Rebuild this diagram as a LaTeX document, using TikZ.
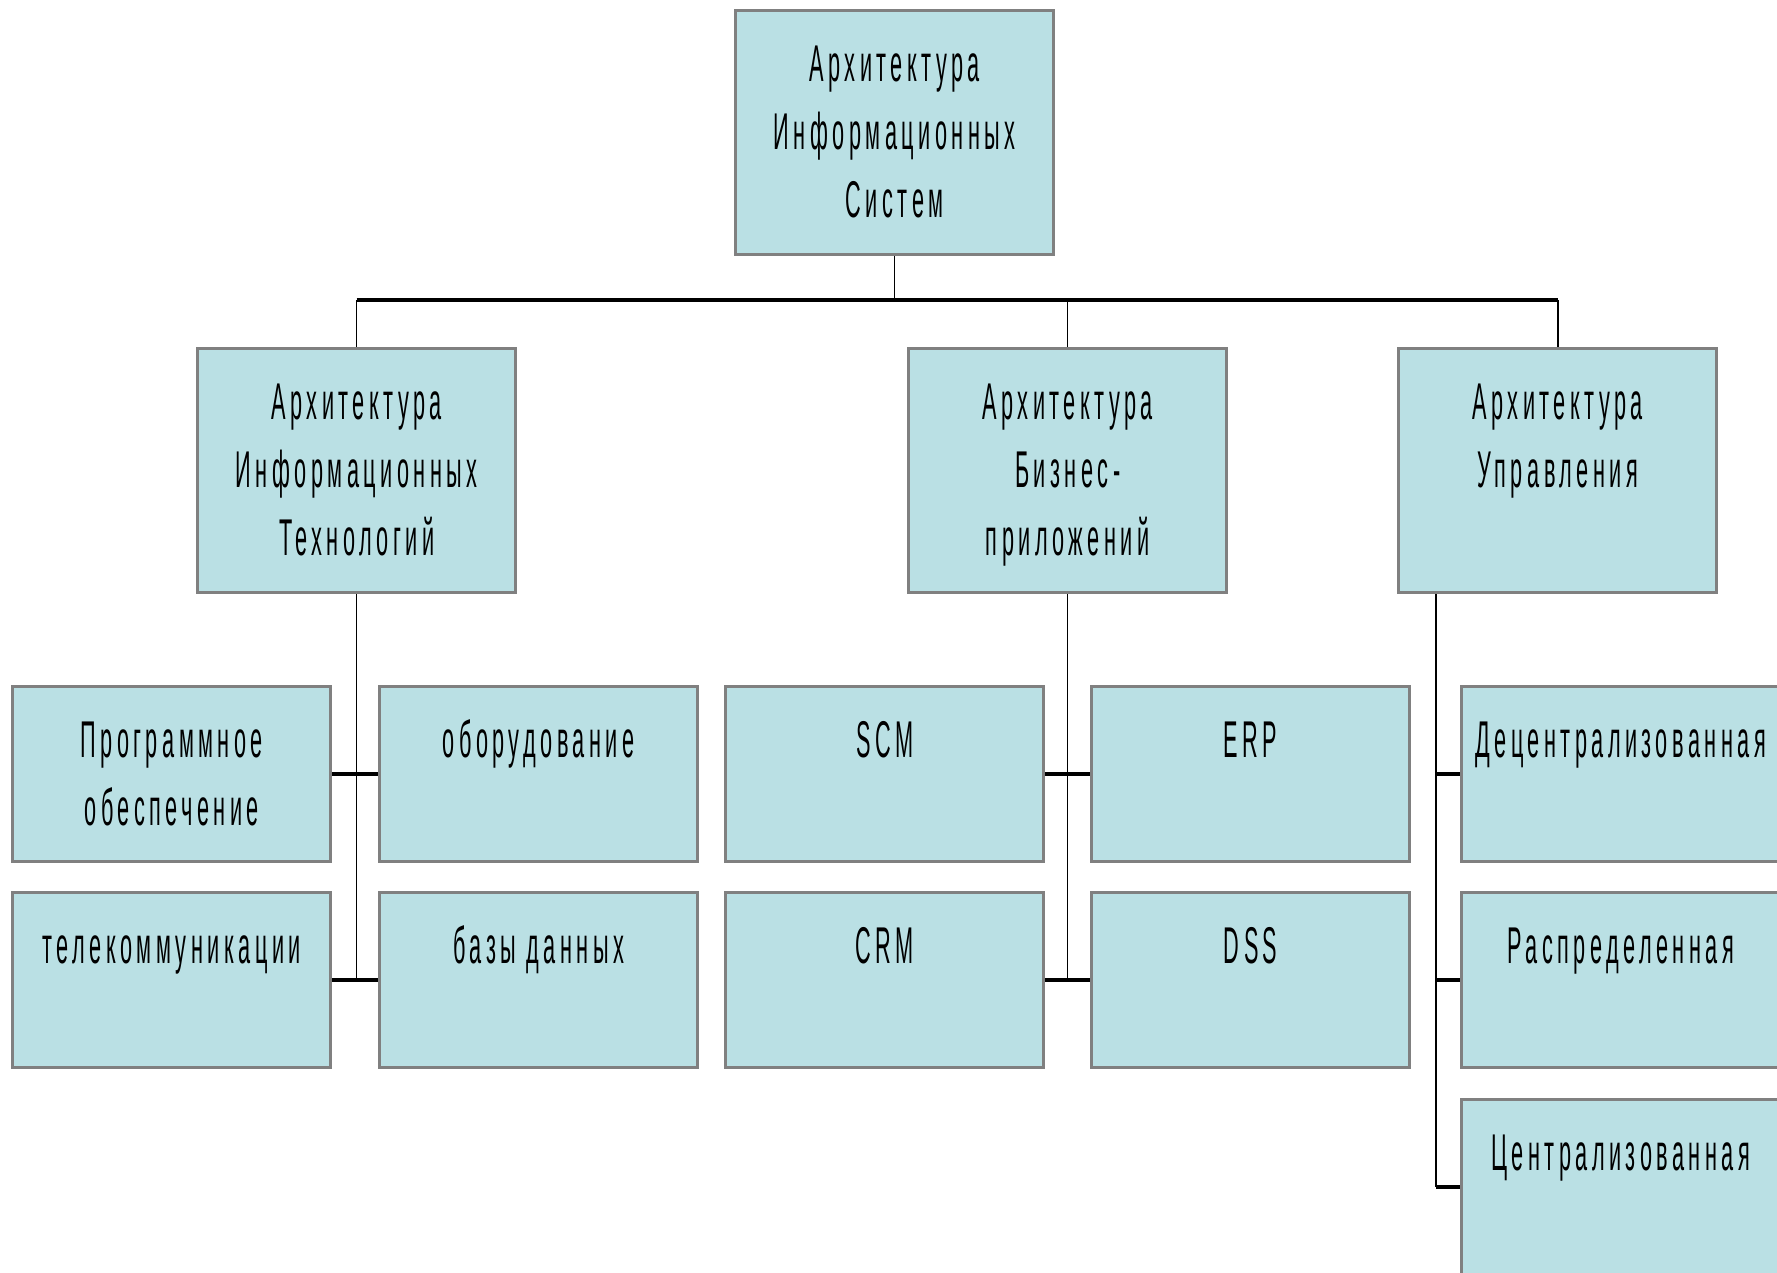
\documentclass[tikz,border=0pt]{standalone}
\usepackage{fontspec}
\setmainfont{Liberation Sans}[FakeStretch=0.42,LetterSpace=8.6]
\usepackage{tikz}
\newcommand\BigBox[1]{\parbox[c][2.44cm][t]{3.18cm}{\centering\rule{0pt}{0.705cm}#1}}
\newcommand\SmallBox[1]{\parbox[c][1.75cm][t]{3.18cm}{\centering\rule{0pt}{0.705cm}#1}}
\definecolor{box_fill}{RGB}{186,224,228}
\definecolor{box_gray}{RGB}{128,128,128}

\begin{document}
\begin{tikzpicture}[x=0.01cm,y=-0.01cm,font=\fontsize{14.7}{19.35}\selectfont]
    \tikzstyle{blk}=[draw=box_gray, line width=0.9pt, fill=box_fill, rectangle, inner sep=0pt, anchor=north west, text=black]
    \tikzstyle{bus}=[line width=1.1pt, black]
    \tikzstyle{link}=[line width=0.45pt, black]
    \tikzstyle{stub}=[line width=1.1pt, black]
    \useasboundingbox (0,0) rectangle (1777,1272);

    \node[blk] (sys) at (734,9)    {\BigBox{Архитектура\\Информационных\\Систем}};

    \node[blk] (it)  at (196,347)  {\BigBox{Архитектура\\Информационных\\Технологий}};
    \node[blk] (ba)  at (907,347)  {\BigBox{Архитектура\\Бизнес-\\приложений}};
    \node[blk] (mg)  at (1397,347) {\BigBox{Архитектура\\Управления}};

    \node[blk] (sw)  at (11,685)   {\SmallBox{Программное\\обеспечение}};
    \node[blk] (hw)  at (378,685)  {\SmallBox{оборудование}};
    \node[blk] (tc)  at (11,891)   {\SmallBox{телекоммуникации}};
    \node[blk] (db)  at (378,891)  {\SmallBox{базы данных}};

    \node[blk] (scm) at (724,685)  {\SmallBox{SCM}};
    \node[blk] (erp) at (1090,685) {\SmallBox{ERP}};
    \node[blk] (crm) at (724,891)  {\SmallBox{CRM}};
    \node[blk] (dss) at (1090,891) {\SmallBox{DSS}};

    \node[blk] (dec) at (1460,685)  {\SmallBox{Децентрализованная}};
    \node[blk] (dis) at (1460,891)  {\SmallBox{Распределенная}};
    \node[blk] (cen) at (1460,1098) {\SmallBox{Централизованная}};

    % top level bus
    \coordinate (top) at (sys.south |- 0,300);
    \draw[link] (sys.south) -- (top);
    \draw[bus] (it.north |- top) -- (mg.north |- top);
    \draw[link] (it.north |- top) -- (it.north);
    \draw[link] (ba.north |- top) -- (ba.north);
    \draw[link] (mg.north |- top) -- (mg.north);

    % second level
    \draw[link] (it.south) -- (it.south |- tc.east);
    \draw[stub] (sw.east) -- (hw.west);
    \draw[stub] (tc.east) -- (db.west);
    \draw[link] (ba.south) -- (ba.south |- crm.east);
    \draw[stub] (scm.east) -- (erp.west);
    \draw[stub] (crm.east) -- (dss.west);
    \coordinate (mgd) at ([xshift=0.39cm]mg.south west);
    \draw[link] (mgd) -- (mgd |- cen.west);
    \draw[stub] (mgd |- dec.west) -- (dec.west);
    \draw[stub] (mgd |- dis.west) -- (dis.west);
    \draw[stub] (mgd |- cen.west) -- (cen.west);
\end{tikzpicture}
\end{document}
